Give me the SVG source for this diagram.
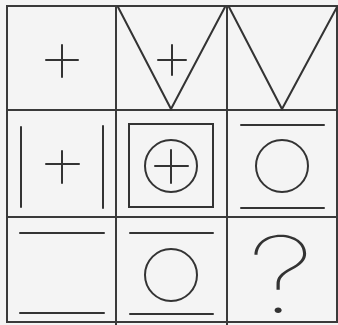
<svg xmlns="http://www.w3.org/2000/svg" width="338" height="325" viewBox="0 0 338 325">
<style>
.ln{stroke:#333;stroke-width:2;fill:none;stroke-linecap:round}
.g{stroke:#3a3a3a;stroke-width:2;fill:none}
.q{font-family:"Inter","Lato","DejaVu Sans",sans-serif;font-weight:100;font-size:106px;fill:#333}
</style>
<rect width="338" height="325" fill="#f4f4f4"/>
<g id="grid">
<rect class="g" x="7" y="6" width="330" height="316"/>
<line class="g" x1="116" y1="6" x2="116" y2="325"/>
<line class="g" x1="227" y1="6" x2="227" y2="325"/>
<line class="g" x1="7" y1="110" x2="337" y2="110"/>
<line class="g" x1="7" y1="217" x2="337" y2="217"/>
</g>
<g id="cell11">
<line class="ln" x1="46" y1="60" x2="78" y2="60"/>
<line class="ln" x1="62" y1="45" x2="62" y2="77"/>
</g>
<g id="cell12">
<polyline class="ln" points="118,7 171,109 225,7"/>
<line class="ln" x1="158" y1="60" x2="186" y2="60"/>
<line class="ln" x1="172" y1="45" x2="172" y2="75"/>
</g>
<g id="cell13">
<polyline class="ln" points="229,7 282,109 337,7"/>
</g>
<g id="cell21">
<line class="ln" x1="21" y1="127" x2="21" y2="207"/>
<line class="ln" x1="103" y1="126" x2="103" y2="208"/>
<line class="ln" x1="46" y1="164" x2="79" y2="164"/>
<line class="ln" x1="62" y1="151" x2="62" y2="183"/>
</g>
<g id="cell22">
<rect class="ln" x="129" y="124" width="84" height="83"/>
<circle class="ln" cx="171" cy="166" r="26"/>
<line class="ln" x1="155" y1="166" x2="188" y2="166"/>
<line class="ln" x1="171" y1="150" x2="171" y2="183"/>
</g>
<g id="cell23">
<line class="ln" x1="241" y1="125" x2="324" y2="125"/>
<circle class="ln" cx="282" cy="166" r="26"/>
<line class="ln" x1="241" y1="208" x2="324" y2="208"/>
</g>
<g id="cell31">
<line class="ln" x1="20" y1="233" x2="104" y2="233"/>
<line class="ln" x1="20" y1="313" x2="104" y2="313"/>
</g>
<g id="cell32">
<line class="ln" x1="130" y1="233" x2="213" y2="233"/>
<circle class="ln" cx="171" cy="275" r="26"/>
<line class="ln" x1="130" y1="314" x2="213" y2="314"/>
</g>
<g id="cell33">
<text class="q" transform="translate(281,313) scale(1.3,1)" x="0" y="0" text-anchor="middle">?</text>
</g>
</svg>
